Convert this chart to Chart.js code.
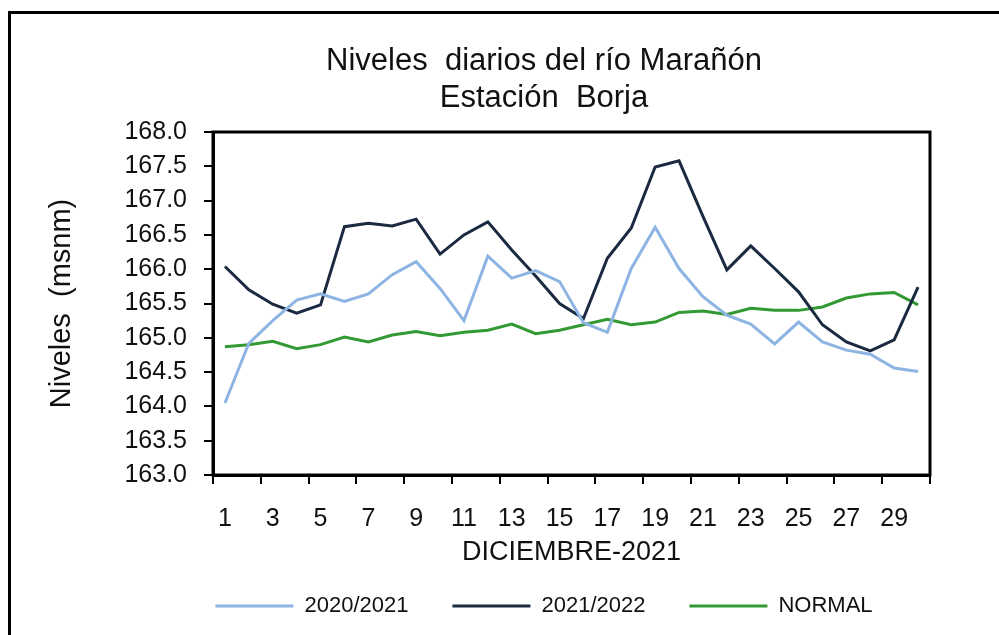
<!DOCTYPE html>
<html>
<head>
<meta charset="utf-8">
<script src="https://cdn.jsdelivr.net/npm/chart.js@4.4.0/dist/chart.umd.min.js"></script>
<style>
    body { margin: 0; background: #fff; overflow: hidden; }
    canvas { display: block; }
</style>
</head>
<body>
<canvas id="grafico" width="999" height="635"></canvas>
<script>
var dias = ['1', '2', '3', '4', '5', '6', '7', '8', '9', '10', '11', '12', '13', '14', '15',
    '16', '17', '18', '19', '20', '21', '22', '23', '24', '25', '26', '27', '28', '29', '30'];

var nivel2020 = [164.05, 164.92, 165.25, 165.55, 165.64, 165.53, 165.64, 165.92, 166.11, 165.72,
    165.25, 166.19, 165.87, 165.98, 165.82, 165.22, 165.08, 166.01, 166.61, 166.01,
    165.60, 165.33, 165.20, 164.91, 165.23, 164.94, 164.82, 164.76, 164.56, 164.51];

var nivel2021 = [166.04, 165.70, 165.49, 165.36, 165.48, 166.62, 166.67, 166.63, 166.73, 166.22,
    166.50, 166.69, 166.28, 165.90, 165.50, 165.28, 166.16, 166.60, 167.49, 167.58,
    166.77, 165.99, 166.34, 166.01, 165.67, 165.19, 164.94, 164.81, 164.97, 165.74];

var nivelNormal = [164.87, 164.90, 164.95, 164.84, 164.90, 165.01, 164.94, 165.04, 165.09, 165.03,
    165.08, 165.11, 165.20, 165.06, 165.11, 165.19, 165.27, 165.19, 165.23, 165.37,
    165.39, 165.34, 165.43, 165.40, 165.40, 165.45, 165.58, 165.64, 165.66, 165.48];

var nombresSeries = ['2020/2021', '2021/2022', 'NORMAL'];
var coloresSeries = ['#8DB4E2', '#1B2A41', '#339933'];

var fuente = "'Liberation Sans', Arial, sans-serif";
Chart.defaults.font.family = fuente;
Chart.defaults.color = '#111';

// marco del area de trazado y borde exterior
var marcos = {
    id: 'marcos',
    beforeDatasetsDraw(chart) {
        const a = chart.chartArea;
        const c = chart.ctx;
        c.save();
        c.strokeStyle = '#000';
        c.lineWidth = 3;
        c.strokeRect(a.left, a.top, a.right - a.left, a.bottom - a.top);
        c.restore();
    },
    afterDraw(chart) {
        const c = chart.ctx;
        c.save();
        c.fillStyle = '#000';
        c.fillRect(8, 11, 3, 640);
        c.fillRect(8, 11, 1000, 3);
        c.restore();
    }
};

var ctx = document.getElementById('grafico').getContext('2d');
new Chart(ctx, {
    type: 'line',
    data: {
        labels: dias,
        datasets: [
            {
                label: nombresSeries[0],
                data: nivel2020,
                borderColor: coloresSeries[0],
                backgroundColor: coloresSeries[0],
                borderWidth: 3,
                pointRadius: 0,
                tension: 0,
                fill: false
            },
            {
                label: nombresSeries[1],
                data: nivel2021,
                borderColor: coloresSeries[1],
                backgroundColor: coloresSeries[1],
                borderWidth: 3,
                pointRadius: 0,
                tension: 0,
                fill: false
            },
            {
                label: nombresSeries[2],
                data: nivelNormal,
                borderColor: coloresSeries[2],
                backgroundColor: coloresSeries[2],
                borderWidth: 3,
                pointRadius: 0,
                tension: 0,
                fill: false
            }
        ]
    },
    options: {
        responsive: false,
        animation: false,
        layout: {
            padding: { left: 118, right: 29, top: 0, bottom: 8 }
        },
        plugins: {
            title: {
                display: true,
                text: ['Niveles  diarios del río Marañón', 'Estación  Borja'],
                color: '#111',
                font: { size: 31, weight: 'normal', lineHeight: 1.2 },
                padding: { top: 43, bottom: 14.6 }
            },
            legend: {
                position: 'bottom',
                labels: {
                    boxWidth: 78,
                    boxHeight: 3,
                    padding: 44,
                    color: '#111',
                    font: { size: 22 },
                    generateLabels: function (chart) {
                        var items = Chart.defaults.plugins.legend.labels.generateLabels(chart);
                        items.forEach(function (it) { it.lineWidth = 0; });
                        return items;
                    }
                }
            },
            tooltip: { enabled: false }
        },
        scales: {
            x: {
                offset: true,
                afterFit: function (scale) { scale.height = 76; },
                grid: {
                    offset: true,
                    drawOnChartArea: false,
                    drawTicks: true,
                    tickLength: 9,
                    lineWidth: 2,
                    tickColor: function (c) {
                        return (c.index === undefined || c.index % 2 === 0) ? '#000' : 'rgba(0,0,0,0)';
                    }
                },
                border: { color: '#000', width: 3 },
                ticks: {
                    autoSkip: false,
                    maxRotation: 0,
                    padding: 20,
                    color: '#111',
                    font: { size: 25 },
                    callback: function (v, i) { return i % 2 === 0 ? dias[i] : ''; }
                },
                title: {
                    display: true,
                    text: 'DICIEMBRE-2021',
                    color: '#111',
                    font: { size: 27 },
                    padding: { top: 0, bottom: -18 }
                }
            },
            y: {
                min: 163,
                max: 168,
                afterFit: function (scale) { scale.width = 95; },
                grid: {
                    drawOnChartArea: false,
                    drawTicks: true,
                    tickLength: 9,
                    lineWidth: 2,
                    tickColor: '#000'
                },
                border: { color: '#000', width: 3 },
                ticks: {
                    stepSize: 0.5,
                    padding: 17,
                    color: '#111',
                    font: { size: 25 },
                    callback: function (v) { return v.toFixed(1); }
                },
                title: {
                    display: true,
                    text: 'Niveles  (msnm)',
                    color: '#111',
                    font: { size: 29 },
                    padding: { top: -73, bottom: 0 }
                }
            },
            // eje vacio a la derecha, solo para reservar espacio
            yVacio: {
                position: 'right',
                min: 0,
                max: 1,
                afterFit: function (scale) { scale.width = 40; },
                grid: { display: false },
                border: { display: false },
                ticks: { display: false }
            }
        }
    },
    plugins: [marcos]
});
</script>
</body>
</html>
